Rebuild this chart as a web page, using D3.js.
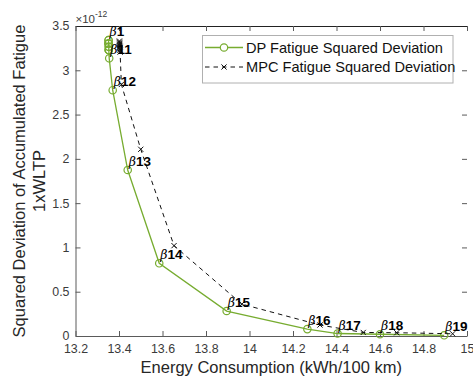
<!DOCTYPE html>
<html>
<head>
<meta charset="utf-8">
<script src="https://cdn.jsdelivr.net/npm/d3@7"></script>
<style>
  html, body { margin: 0; padding: 0; background: #fff; }
  svg { display: block; font-family: "Liberation Sans", Arial, Helvetica, sans-serif; }
</style>
</head>
<body>
<svg id="chart" width="473" height="376"></svg>
<script>
// Energy consumption (kWh/100 km) and squared fatigue deviation (x1e-12), weights β1..β19
const betaNames = ["1","2","3","4","5","6","7","8","9","10","11","12","13","14","15","16","17","18","19"];
const dpEnergy = [13.352, 13.352, 13.352, 13.352, 13.352, 13.353, 13.353, 13.353, 13.353, 13.353,
                  13.355, 13.371, 13.440, 13.585, 13.895, 14.266, 14.405, 14.600, 14.895];
const dpFatigue = [3.340, 3.340, 3.302, 3.302, 3.302, 3.266, 3.266, 3.230, 3.230, 3.230,
                   3.135, 2.775, 1.874, 0.821, 0.282, 0.078, 0.028, 0.020, 0.008];
const mpcEnergy = [13.402, 13.402, 13.403, 13.403, 13.403, 13.404, 13.404, 13.404, 13.405, 13.405,
                   13.405, 13.411, 13.500, 13.653, 13.965, 14.324, 14.523, 14.677, 14.934];
const mpcFatigue = [3.330, 3.318, 3.306, 3.294, 3.282, 3.270, 3.258, 3.246, 3.236, 3.226,
                    3.205, 2.840, 2.108, 1.020, 0.360, 0.124, 0.040, 0.037, 0.025];
// Only these weights get a text tag next to the DP curve
const labelled = ["1","11","12","13","14","15","16","17","18","19"];
const xTicks = [13.2, 13.4, 13.6, 13.8, 14, 14.2, 14.4, 14.6, 14.8, 15];
const yTicks = [0, 0.5, 1, 1.5, 2, 2.5, 3, 3.5];
const seriesNames = ["DP Fatigue Squared Deviation", "MPC Fatigue Squared Deviation"];

const green = "#77AC30";
const axisGray = "#5a5a5a";
const textGray = "#3a3a3a";

const svg = d3.select("#chart");
const plotL = 75.5, plotR = 467, plotT = 26, plotB = 336;

const x = d3.scaleLinear().domain([13.2, 15]).range([plotL, plotR]);
const y = d3.scaleLinear().domain([0, 3.5]).range([plotB, plotT]);

// Bottom axis, ticks pointing inward
const xAxis = svg.append("g").attr("transform", `translate(0,${plotB})`)
  .call(d3.axisBottom(x).tickValues(xTicks).tickSizeInner(-5).tickSizeOuter(0)
        .tickPadding(8).tickFormat(d3.format("~g")));
xAxis.select(".domain").attr("stroke", axisGray);
xAxis.selectAll(".tick line").attr("stroke", axisGray);
xAxis.selectAll("text").attr("fill", textGray).attr("font-size", "12.4px");

// Left axis
const yAxis = svg.append("g").attr("transform", `translate(${plotL},0)`)
  .call(d3.axisLeft(y).tickValues(yTicks).tickSizeInner(-5).tickSizeOuter(0)
        .tickPadding(6).tickFormat(d3.format("~g")));
yAxis.select(".domain").attr("stroke", axisGray);
yAxis.selectAll(".tick line").attr("stroke", axisGray);
yAxis.selectAll("text").attr("fill", textGray).attr("font-size", "12.4px");

// Top frame line with inward ticks
const topAxis = svg.append("g").attr("transform", `translate(0,${plotT})`)
  .call(d3.axisTop(x).tickValues(xTicks).tickSizeInner(-5).tickSizeOuter(0).tickFormat(""));
topAxis.select(".domain").attr("stroke", "#222").attr("stroke-width", 1.2);
topAxis.selectAll(".tick line").attr("stroke", axisGray);

// Right-side inward ticks (no frame line)
const rightAxis = svg.append("g").attr("transform", `translate(${plotR},0)`)
  .call(d3.axisRight(y).tickValues(yTicks.filter(v => v > 0 && v < 3.5)).tickSizeInner(-5).tickSizeOuter(0).tickFormat(""));
rightAxis.select(".domain").remove();
rightAxis.selectAll(".tick line").attr("stroke", axisGray);

// Exponent marker
const expo = svg.append("text").attr("x", plotL).attr("y", 23)
  .attr("fill", textGray).attr("font-size", "11.5px");
expo.append("tspan").text("×10");
expo.append("tspan").attr("dy", -6).attr("font-size", "8.5px").text("-12");

// Axis titles
svg.append("text").attr("x", (plotL + plotR) / 2).attr("y", 373)
  .attr("text-anchor", "middle").attr("fill", "#262626").attr("font-size", "16.5px")
  .text("Energy Consumption (kWh/100 km)");
const yTitle = svg.append("text")
  .attr("transform", `translate(24.5,${(plotT + plotB) / 2}) rotate(-90)`)
  .attr("text-anchor", "middle").attr("fill", "#262626").attr("font-size", "16.5px");
yTitle.append("tspan").attr("x", 0).attr("y", 0).text("Squared Deviation of Accumulated Fatigue");
yTitle.append("tspan").attr("x", 0).attr("y", 20).text("1xWLTP");

// DP series
const dpPts = dpEnergy.map((e, i) => ({ e, f: dpFatigue[i], name: betaNames[i] }));
const mpcPts = mpcEnergy.map((e, i) => ({ e, f: mpcFatigue[i], name: betaNames[i] }));
const line = d3.line().x(d => x(d.e)).y(d => y(d.f));

svg.append("path").datum(dpPts).attr("d", line)
  .attr("fill", "none").attr("stroke", green).attr("stroke-width", 1.3);
svg.append("g").selectAll("circle").data(dpPts).join("circle")
  .attr("cx", d => x(d.e)).attr("cy", d => y(d.f)).attr("r", 3.7)
  .attr("fill", "none").attr("stroke", green).attr("stroke-width", 1.2);

// MPC series
svg.append("path").datum(mpcPts).attr("d", line)
  .attr("fill", "none").attr("stroke", "#111").attr("stroke-width", 1)
  .attr("stroke-dasharray", "4.5,4");
const xMark = (cx, cy, s) => `M${cx - s},${cy - s}L${cx + s},${cy + s}M${cx - s},${cy + s}L${cx + s},${cy - s}`;
svg.append("g").selectAll("path").data(mpcPts).join("path")
  .attr("d", d => xMark(x(d.e), y(d.f), 2.6))
  .attr("stroke", "#111").attr("stroke-width", 1).attr("fill", "none");

// β tags beside DP points
const tags = svg.append("g").selectAll("text")
  .data(dpPts.filter(d => labelled.includes(d.name))).join("text")
  .attr("x", d => x(d.e) + 1).attr("y", d => y(d.f) - 4)
  .attr("font-size", "13.5px").attr("fill", "#000");
tags.append("tspan").attr("font-style", "italic").attr("font-family", "'DejaVu Serif', serif")
  .attr("font-size", "12.5px").text("β");
tags.append("tspan").attr("font-weight", "bold").text(d => d.name);

// Legend
const lg = svg.append("g");
lg.append("rect").attr("x", 202.5).attr("y", 35.5).attr("width", 250.5).attr("height", 47.5)
  .attr("fill", "#fff").attr("stroke", "#b0b0b0").attr("stroke-width", 1);
const rows = [47.5, 67];
lg.append("line").attr("x1", 205).attr("x2", 243).attr("y1", rows[0]).attr("y2", rows[0])
  .attr("stroke", green).attr("stroke-width", 1.3);
lg.append("circle").attr("cx", 224).attr("cy", rows[0]).attr("r", 3.7)
  .attr("fill", "#fff").attr("stroke", green).attr("stroke-width", 1.2);
lg.append("line").attr("x1", 205).attr("x2", 243).attr("y1", rows[1]).attr("y2", rows[1])
  .attr("stroke", "#111").attr("stroke-dasharray", "4.5,4");
lg.append("path").attr("d", xMark(224, rows[1], 2.6)).attr("stroke", "#111").attr("fill", "none");
lg.selectAll("text.lab").data(seriesNames).join("text").attr("class", "lab")
  .attr("x", 246).attr("y", (d, i) => rows[i] + 5)
  .attr("font-size", "14.6px").attr("fill", "#111").text(d => d);
</script>
</body>
</html>
